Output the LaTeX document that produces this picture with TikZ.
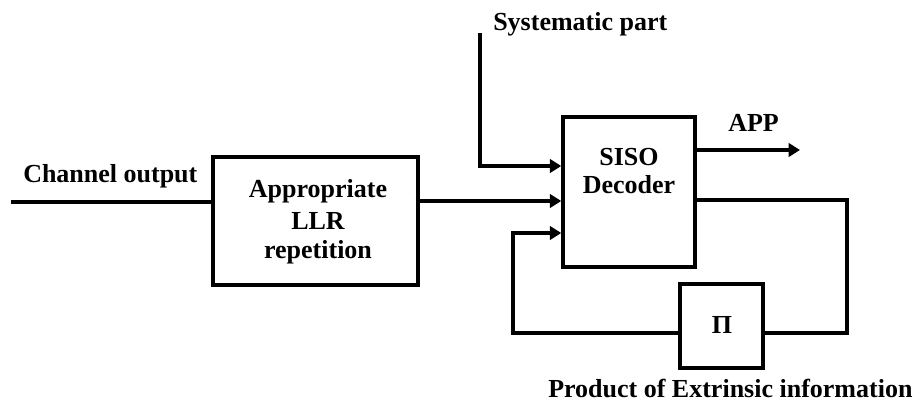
\documentclass[tikz,border=0pt]{standalone}
\usepackage{fontspec}
\setmainfont{Liberation Serif}
\usetikzlibrary{arrows.meta,calc}
\begin{document}
\begin{tikzpicture}[x=0.75pt,y=-0.75pt,
  blk/.style={draw,line width=2.6pt,inner sep=0pt},
  wire/.style={line width=2.8pt},
  arr/.style={wire,-{Triangle[length=8.5pt,width=10pt]}},
  txt/.style={font=\bfseries\fontsize{19.5}{22.5}\selectfont,inner sep=0pt}]
\useasboundingbox (0,0) rectangle (917,403);
% blocks
\node[blk,minimum width=153.75pt,minimum height=96pt] (llr) at (315.5,221) {};
\node[blk,minimum width=99pt,minimum height=112.5pt] (siso) at (629,192) {};
\node[blk,minimum width=62.25pt,minimum height=63pt] (pi) at (721.5,326) {};
% block texts
\node[txt,anchor=base] (t1) at (318,197) {Appropriate};
\node[txt,anchor=base] (t2) at (318,229) {LLR};
\node[txt,anchor=base] (t3) at (318,258) {repetition};
\node[txt,anchor=base] (s1) at (629,165) {SISO};
\node[txt,anchor=base] (s2) at (629,193) {Decoder};
\node[txt,anchor=base] (p1) at (722,333) {\symbol{"03A0}};
% labels
\node[txt,anchor=base west] (lch) at (23,182) {Channel output};
\node[txt,anchor=base west] (lsys) at (493,31) {Systematic part};
\node[txt,anchor=base west] (lapp) at (728,132) {APP};
\node[txt,anchor=base west] (lprod) at (548,397) {Product of Extrinsic information};
% free ends
\coordinate (cin) at (11,202);
\coordinate (sys) at (480,33);
\coordinate (app) at (800,150);
\coordinate (rc) at (847,200);
\coordinate (lc) at (513,333);
% port levels
\coordinate (in1) at (siso.west |- 0,166);
\coordinate (in2) at (siso.west |- 0,201);
\coordinate (in3) at (siso.west |- 0,233);
\coordinate (o1) at (siso.east |- app);
\coordinate (o2) at (siso.east |- rc);
\coordinate (pe) at (pi.east |- lc);
\coordinate (pw) at (pi.west |- lc);
% connectors
\draw[wire] (cin) -- (cin -| llr.west);
\draw[arr] ([xshift=-3pt]in2 -| llr.east) -- (in2);
\draw[arr] (sys) |- (in1);
\draw[arr] (o1) -- (app);
\draw[wire,line join=miter] (o2) -- (rc) |- (pe);
\draw[arr,line join=miter] (pw) -- (lc) |- (in3);
\end{tikzpicture}
\end{document}
